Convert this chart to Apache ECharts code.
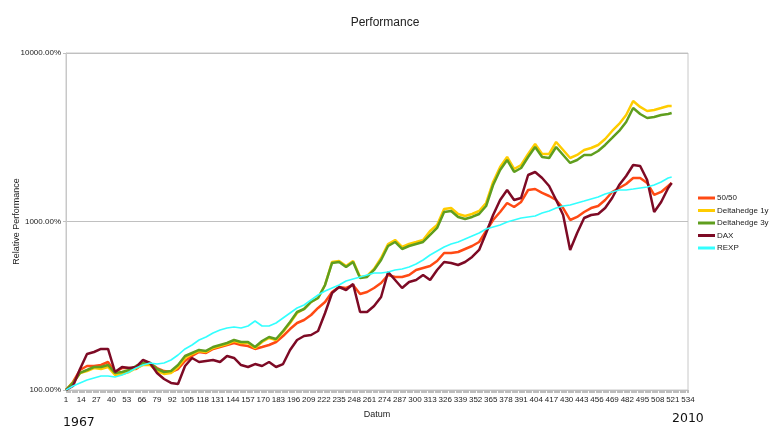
<!DOCTYPE html>
<html><head><meta charset="utf-8">
<script src="https://cdn.jsdelivr.net/npm/echarts@6/dist/echarts.min.js"></script>
<style>html,body{margin:0;padding:0;background:#fff}#c{width:770px;height:432px}</style>
</head><body><div id="c"></div>
<script>
// x categories 1..534 (months)
const categories = [];
for (let i = 1; i <= 534; i++) categories.push(String(i));

// sample months at which values were read
const months = [1,7,13,19,25,31,37,43,49,55,61,67,73,79,85,91,97,103,109,115,121,127,133,139,145,151,157,163,169,175,181,187,193,199,205,211,217,223,229,235,241,247,253,259,265,271,277,283,289,295,301,307,313,319,325,331,337,343,349,355,361,367,373,379,385,391,397,403,409,415,421,427,433,439,445,451,457,463,469,475,481,487,493,499,505,511,517,520];

const s5050 = [100,111.6,131.4,138.8,138.8,140.7,146.6,127.9,135.0,135.0,
133.2,142.6,144.6,135.0,129.6,127.9,133.2,148.7,159.1,168.1,
165.8,175.2,180.0,185.0,190.1,185.0,182.5,175.2,180.0,185.0,
192.7,209.1,230.1,249.8,260.3,278.7,306.7,332.9,381.6,408.6,
403.1,420.0,371.3,381.6,403.1,431.6,481.5,468.5,468.5,481.5,
515.5,529.8,544.5,583.0,650.3,650.3,659.3,686.9,715.7,755.8,
878.4,1021,1139,1288,1219,1306,1538,1559,1477,1417,
1342,1202,1021,1064,1139,1202,1236,1342,1497,1581,
1670,1813,1813,1693,1437,1497,1624,1693];

const sDH1y = [100,110.1,126.2,129.6,135.0,133.2,136.9,122.8,124.5,127.9,
135.0,140.7,140.7,129.6,124.5,126.2,136.9,154.9,163.5,170.5,
168.1,177.6,182.5,187.5,195.3,190.1,190.1,177.6,192.7,203.5,
198.0,220.9,249.8,286.4,302.5,332.9,351.6,420.0,575.1,583.0,
544.5,583.0,468.5,474.9,522.6,607.4,735.4,776.8,706.0,735.4,
755.8,776.8,878.4,953.3,1186,1202,1108,1078,1108,1154,
1288,1716,2107,2415,2050,2165,2516,2884,2516,2516,
2964,2657,2382,2482,2657,2731,2845,3089,3446,3791,
4288,5193,4784,4529,4591,4718,4849,4849];

const sDH3y = [100,110.1,126.2,131.4,136.9,136.9,140.7,126.2,127.9,131.4,
138.8,144.6,144.6,133.2,127.9,129.6,140.7,159.1,165.8,172.8,
170.5,180.0,185.0,190.1,198.0,192.7,192.7,180.0,195.3,206.3,
200.7,223.9,253.3,290.4,302.5,332.9,351.6,420.0,567.3,575.1,
537.1,575.1,462.2,468.5,515.5,591.0,715.7,755.8,686.9,715.7,
735.4,755.8,831.7,915.2,1139,1154,1064,1035,1064,1108,
1236,1647,2022,2318,1967,2078,2415,2768,2415,2382,
2768,2482,2225,2318,2482,2482,2622,2845,3131,3446,
3897,4718,4347,4116,4173,4288,4347,4407];

const sDAX = [100,105.6,133.2,163.5,168.1,175.2,175.2,127.9,136.9,135.0,
136.9,150.7,144.6,126.2,116.2,110.1,108.6,138.8,154.9,146.6,
148.7,150.7,146.6,159.1,154.9,140.7,136.9,142.6,138.8,146.6,
136.9,142.6,172.8,198.0,209.1,212.0,223.9,286.4,376.4,408.6,
392.2,425.8,290.4,290.4,315.2,356.4,501.7,449.7,403.1,437.6,
449.7,481.5,449.7,515.5,575.1,567.3,552.0,575.1,615.8,677.6,
854.7,1093,1342,1538,1342,1379,1888,1967,1813,1624,
1342,1093,678,854.7,1049,1093,1108,1202,1379,1647,
1862,2165,2136,1764,1139,1306,1581,1693];

const sREXP = [100,105.6,110.1,114.6,117.8,121.0,121.0,119.4,122.8,127.9,
135.0,140.7,144.6,142.6,144.6,150.7,161.3,175.2,185.0,198.0,
206.3,217.9,227.0,233.3,236.5,233.3,239.8,256.8,239.8,239.8,
249.8,267.5,286.4,306.7,319.5,342.1,366.3,386.9,403.1,420.0,
443.6,455.9,468.5,481.5,494.8,494.8,501.7,515.5,522.6,537.1,
559.6,591.0,632.8,668.4,706.0,735.4,755.8,787.5,820.4,854.7,
902.8,927.8,953.3,993,1021,1049,1064,1078,1123,1154,
1202,1236,1253,1288,1323,1360,1398,1457,1497,1538,
1538,1559,1581,1602,1647,1716,1813,1838];

const seriesNames = ['50/50','Deltahedge 1y','Deltahedge 3y','DAX','REXP'];
const seriesValues = [s5050, sDH1y, sDH3y, sDAX, sREXP];
const seriesColors = ['#ff4a14','#ffcc00','#5f9e1e','#7d0a25','#33ffff'];
const seriesWidths = [2.5, 2.5, 2.5, 2.5, 1.6];

function pairs(vals) { return months.map((m, i) => [m - 1, vals[i]]); }

const chart = echarts.init(document.getElementById('c'), null, {renderer: 'canvas'});
const FONT = 'Liberation Sans';
chart.setOption({
  animation: false,
  backgroundColor: '#fff',
  title: {
    text: 'Performance', left: 'center', top: 12,
    textStyle: {fontFamily: FONT, fontSize: 12, fontWeight: 'normal', color: '#222'}
  },
  legend: {
    orient: 'vertical', left: 698, top: 193, width: 72,
    icon: 'rect', itemWidth: 17, itemHeight: 3, itemGap: 2.5,
    textStyle: {fontFamily: FONT, fontSize: 8, color: '#222', lineHeight: 10, padding: [0, 0, 0, -3]},
    padding: 0,
    data: seriesNames
  },
  grid: {left: 66, right: 82, top: 53, bottom: 42, outerBoundsMode: 'none',
         show: true, borderColor: '#c8c8c8', borderWidth: 1},
  xAxis: {
    type: 'category', data: categories, boundaryGap: false,
    name: 'Datum', nameLocation: 'middle', nameGap: 20, nameMoveOverlap: false,
    nameTextStyle: {fontFamily: FONT, fontSize: 9, color: '#222'},
    axisLine: {lineStyle: {color: '#c0c0c0'}},
    axisTick: {show: true, interval: 0, length: 3, lineStyle: {color: '#bdbdbd'}},
    axisLabel: {interval: 12, fontFamily: FONT, fontSize: 8, color: '#222', margin: 6},
    splitLine: {show: false}
  },
  yAxis: {
    type: 'log', logBase: 10, min: 100, max: 10000,
    name: 'Relative Performance', nameLocation: 'middle', nameGap: 49, nameMoveOverlap: false,
    nameTextStyle: {fontFamily: FONT, fontSize: 9, color: '#222', verticalAlign: 'middle'},
    axisLine: {show: true, lineStyle: {color: '#c8c8c8'}},
    axisTick: {show: true, length: 3, lineStyle: {color: '#c0c0c0'}},
    axisLabel: {fontFamily: FONT, fontSize: 8, color: '#222', margin: 5,
                formatter: v => Number(v).toFixed(2) + '%'},
    splitLine: {show: true, lineStyle: {color: '#c0c0c0', width: 1}},
    minorTick: {show: false}
  },
  graphic: [
    {type: 'text', left: 63, top: 416, style: {text: '1967', font: '12.5px "DejaVu Sans"', fill: '#111'}},
    {type: 'text', left: 672, top: 412, style: {text: '2010', font: '12.5px "DejaVu Sans"', fill: '#111'}}
  ],
  series: seriesNames.map((n, i) => ({
    name: n, type: 'line', data: pairs(seriesValues[i]),
    showSymbol: false, symbol: 'none', smooth: false,
    lineStyle: {color: seriesColors[i], width: seriesWidths[i]},
    itemStyle: {color: seriesColors[i]},
    z: 2 + i
  }))
});
</script>
</body></html>
